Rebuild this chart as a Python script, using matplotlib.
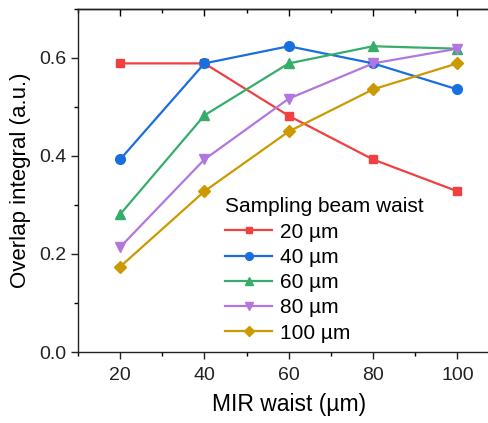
import matplotlib
matplotlib.use("Agg")
import matplotlib.pyplot as plt
from matplotlib.ticker import MultipleLocator

plt.rcParams['font.family'] = ['Liberation Sans', 'DejaVu Sans']

mir_waist = [20, 40, 60, 80, 100]
labels = ["20 µm", "40 µm", "60 µm", "80 µm", "100 µm"]
s20 = [0.589, 0.589, 0.482, 0.393, 0.328]
s40 = [0.393, 0.589, 0.624, 0.589, 0.536]
s60 = [0.281, 0.483, 0.589, 0.624, 0.619]
s80 = [0.214, 0.393, 0.517, 0.589, 0.619]
s100 = [0.174, 0.328, 0.450, 0.536, 0.589]
series = [s20, s40, s60, s80, s100]
colors = ["#F14040", "#1A6FDF", "#37AD6B", "#B177DE", "#CC9900"]
markers = ["s", "o", "^", "v", "D"]
msizes = [6, 7, 7, 7, 6]

fig = plt.figure(figsize=(4.89, 4.23), dpi=100)
ax = fig.add_axes([78/489, 71/423, (499.5-78)/489, (352-9)/423])

for y, c, m, ms, lab in zip(series, colors, markers, msizes, labels):
    ax.plot(mir_waist, y, color=c, marker=m, markersize=ms, linewidth=1.6, label=lab)

ax.set_xlim(10, 110)
ax.set_ylim(0, 0.7)
ax.set_xticks(mir_waist)
ax.set_yticks([0.0, 0.2, 0.4, 0.6])
ax.set_yticklabels(["0.0", "0.2", "0.4", "0.6"])
ax.xaxis.set_minor_locator(MultipleLocator(10))
ax.yaxis.set_minor_locator(MultipleLocator(0.1))
ax.tick_params(axis='both', which='major', direction='out', length=5, width=1, labelsize=14, colors='#222222')
ax.tick_params(axis='both', which='minor', direction='out', length=3, width=1)
ax.tick_params(axis='x', which='major', pad=6)
for sp in ax.spines.values():
    sp.set_linewidth(1.0)
    sp.set_color('#222222')
ax.spines['right'].set_visible(False)

ax.tick_params(axis='x', which='both', top=False)
sec = ax.secondary_xaxis('top')
sec.set_xticks(mir_waist)
sec.xaxis.set_minor_locator(MultipleLocator(10))
sec.tick_params(axis='x', which='major', direction='in', length=5, width=1, labelsize=0, labeltop=False)
sec.tick_params(axis='x', which='minor', direction='in', length=3, width=1)
sec.spines['top'].set_linewidth(1.0)

ax.set_xlabel("MIR waist (µm)", fontsize=16.5, labelpad=6)
ax.set_ylabel("Overlap integral (a.u.)", fontsize=16, labelpad=6)

leg = ax.legend(title="Sampling beam waist", loc='lower left', bbox_to_anchor=(0.315, -0.015),
                frameon=False, fontsize=15, title_fontsize=15, handlelength=2.25,
                labelspacing=0.3, handletextpad=0.35, borderaxespad=0.3, markerscale=0.8)
leg._legend_box.align = "left"

fig.savefig("out.png", dpi=100)
